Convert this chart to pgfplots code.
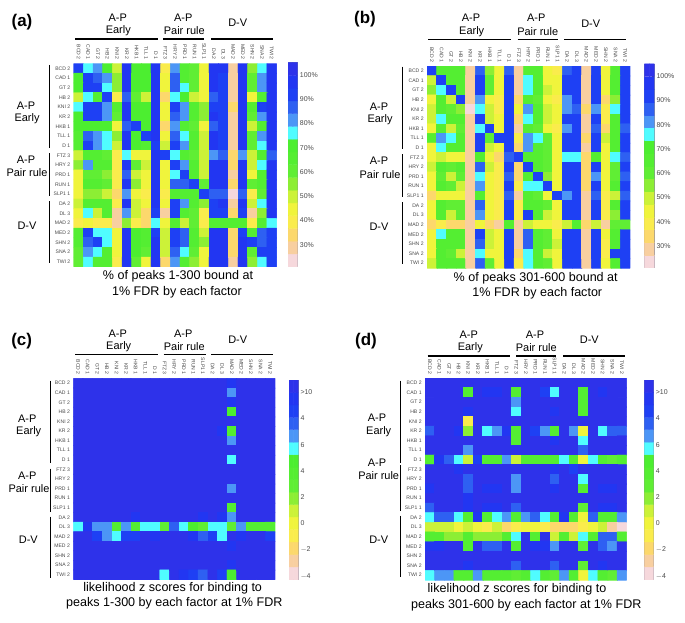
\documentclass[border=0pt]{standalone}
\usepackage{fontspec}
\setmainfont{Liberation Sans}
\usepackage{pgfplots}
\usepackage{pgfplotstable}
\pgfplotsset{compat=1.18}
\newcommand\fs[1]{\fontsize{#1}{#1}\selectfont}
\definecolor{tinygray}{HTML}{4A4A4A}
\definecolor{framegray}{HTML}{8C8C9C}
\pgfplotsset{
 colormap={chip}{rgb255=(246,216,220) rgb255=(248,207,160) rgb255=(252,216,108) rgb255=(250,236,76) rgb255=(240,244,60) rgb255=(204,242,56) rgb255=(140,238,52) rgb255=(96,238,52) rgb255=(84,238,50) rgb255=(76,238,48) rgb255=(80,252,255) rgb255=(76,150,246) rgb255=(46,96,242) rgb255=(30,64,244) rgb255=(34,54,242) rgb255=(46,50,234)},
 /pgfplots/table/flatgrid/.style={x index=0,y index=0,x expr={\coordindex-21*floor((\coordindex+0.5)/21)},y expr={floor((\coordindex+0.5)/21)},meta index=0},
 /pgfplots/table/flatunder/.style={x index=0,y index=0,x expr={\coordindex-21*floor((\coordindex+0.5)/21)+0.05},y expr={floor((\coordindex+0.5)/21)+0.05},meta index=0},
 heat/.style={scale only axis,anchor=south west,colormap name=chip,colormap access=piecewise constant,
  xmin=-0.5,xmax=20.5,ymin=-0.5,ymax=20.5,y dir=reverse,enlargelimits=false,
  axis line style={draw=none},major tick length=0pt,
  xtick={0,...,20},ytick={0,...,20},
  xticklabel pos=top,
  xticklabels={BCD 2,CAD 1,GT 2,HB 2,KNI 2,KR 2,HKB 1,TLL 1,D 1,FTZ 3,HRY 2,PRD 1,RUN 1,SLP1 1,DA 2,DL 3,MAD 2,MED 2,SHN 2,SNA 2,TWI 2},
  yticklabels={BCD 2,CAD 1,GT 2,HB 2,KNI 2,KR 2,HKB 1,TLL 1,D 1,FTZ 3,HRY 2,PRD 1,RUN 1,SLP1 1,DA 2,DL 3,MAD 2,MED 2,SHN 2,SNA 2,TWI 2},
  xticklabel style={yshift=3.5bp,rotate=-90,anchor=east,font=\fs{5.1},text=tinygray,inner sep=0pt},
  yticklabel style={anchor=east,font=\fs{5.1},text=tinygray,inner sep=0pt,xshift=-3.2bp}},
 cbar/.style={scale only axis,anchor=south west,colormap name=chip,colormap access=piecewise constant,
  xmin=-0.5,xmax=1.5,enlargelimits=false,xtick=\empty,
  axis line style={draw=framegray,line width=0.6bp},
  ytick pos=right,yticklabel pos=right,
  major tick length=2bp,tick style={draw=tinygray,line width=0.4bp},
  yticklabel style={font=\fs{7},text=tinygray,inner sep=0pt,xshift=2bp}},
 pctbar/.style={cbar,ymin=21,ymax=105,ytick={30,40,50,60,70,80,90,100},yticklabels={30\%,40\%,50\%,60\%,70\%,80\%,90\%,100\%}},
 zbar/.style={cbar,ymin=-4.25,ymax=10.94,ytick={-4,-2,0,2,4,6,8,10},yticklabels={$-$4,$-$2,0,2,4,6,4,>10}}
}
\newcommand\cellplot[1]{%
 \addplot[matrix plot*,mesh/cols=21,point meta=explicit] table[flatunder] {#1};
 \addplot[matrix plot*,mesh/cols=21,point meta=explicit] table[flatgrid] {#1};}
\newcommand\pctbarplot{\addplot[matrix plot*,mesh/cols=2,point meta=y] coordinates {(0,23.6)(1,23.6)(0,28.9)(1,28.9)(0,34.1)(1,34.1)(0,39.4)(1,39.4)(0,44.6)(1,44.6)(0,49.9)(1,49.9)(0,55.1)(1,55.1)(0,60.4)(1,60.4)(0,65.6)(1,65.6)(0,70.9)(1,70.9)(0,76.1)(1,76.1)(0,81.4)(1,81.4)(0,86.6)(1,86.6)(0,91.9)(1,91.9)(0,97.1)(1,97.1)(0,102.4)(1,102.4)};}
\newcommand\zbarplot{\addplot[matrix plot*,mesh/cols=2,point meta=y] coordinates {(0,-3.8)(1,-3.8)(0,-2.8)(1,-2.8)(0,-1.9)(1,-1.9)(0,-0.9)(1,-0.9)(0,0)(1,0)(0,1)(1,1)(0,1.9)(1,1.9)(0,2.9)(1,2.9)(0,3.8)(1,3.8)(0,4.8)(1,4.8)(0,5.7)(1,5.7)(0,6.7)(1,6.7)(0,7.6)(1,7.6)(0,8.6)(1,8.6)(0,9.5)(1,9.5)(0,10.5)(1,10.5)};}
\newcommand\txt[3]{\node[inner sep=0pt,font=\fs{11}] at (#1,#2) {#3};}
\newcommand\capt[3]{\node[inner sep=0pt,font=\fs{12.6}] at (#1,#2) {#3};}
\pgfplotstableread[header=false,row sep=\\]{
92\\76\\81\\71\\50\\97\\71\\71\\97\\39\\81\\66\\60\\45\\97\\97\\29\\97\\55\\76\\97\\
71\\92\\87\\81\\55\\97\\71\\71\\97\\45\\87\\66\\60\\45\\97\\92\\29\\97\\60\\81\\97\\
71\\92\\92\\76\\55\\97\\71\\71\\97\\45\\87\\76\\60\\45\\97\\92\\29\\97\\60\\81\\97\\
50\\76\\66\\92\\39\\87\\60\\50\\97\\34\\76\\71\\50\\45\\87\\92\\29\\97\\45\\66\\97\\
76\\92\\92\\81\\66\\97\\71\\71\\97\\45\\92\\81\\66\\55\\92\\92\\34\\97\\66\\92\\97\\
71\\92\\92\\81\\60\\97\\71\\71\\97\\45\\87\\81\\66\\55\\97\\92\\29\\97\\60\\81\\97\\
71\\71\\71\\71\\45\\87\\92\\71\\97\\34\\81\\66\\60\\45\\87\\92\\29\\97\\50\\66\\97\\
66\\87\\81\\76\\55\\97\\71\\92\\97\\45\\87\\76\\66\\50\\97\\92\\29\\97\\60\\81\\97\\
66\\92\\81\\76\\50\\97\\71\\66\\92\\50\\92\\81\\66\\50\\97\\92\\29\\97\\60\\76\\97\\
50\\66\\66\\60\\39\\76\\45\\45\\97\\92\\76\\66\\60\\50\\81\\87\\34\\81\\50\\66\\87\\
55\\81\\66\\66\\39\\97\\60\\50\\97\\45\\92\\81\\66\\50\\97\\97\\34\\97\\50\\76\\97\\
45\\60\\60\\55\\39\\87\\50\\45\\97\\45\\76\\92\\66\\50\\97\\97\\29\\97\\45\\66\\97\\
45\\66\\66\\60\\39\\97\\55\\45\\97\\45\\87\\87\\92\\60\\97\\97\\34\\97\\60\\66\\97\\
45\\55\\55\\50\\34\\81\\45\\39\\97\\39\\66\\66\\66\\92\\87\\87\\24\\87\\39\\60\\97\\
50\\66\\66\\66\\39\\97\\50\\45\\97\\45\\92\\81\\66\\55\\92\\97\\29\\97\\50\\76\\97\\
45\\76\\50\\66\\29\\81\\50\\34\\92\\29\\92\\66\\60\\39\\92\\92\\34\\92\\29\\55\\97\\
39\\45\\39\\39\\29\\55\\39\\34\\76\\45\\66\\50\\60\\39\\66\\66\\66\\66\\39\\66\\76\\
66\\92\\76\\76\\45\\97\\71\\66\\92\\50\\92\\87\\66\\50\\97\\97\\34\\92\\66\\87\\92\\
66\\87\\92\\76\\45\\97\\71\\66\\97\\50\\92\\87\\66\\55\\97\\97\\34\\97\\92\\87\\92\\
60\\81\\76\\66\\45\\97\\71\\60\\97\\50\\87\\76\\60\\45\\97\\97\\34\\97\\60\\92\\92\\
60\\76\\66\\66\\39\\97\\60\\45\\97\\34\\81\\66\\55\\45\\97\\97\\29\\97\\55\\76\\92\\
}\dataA
\pgfplotstableread[header=false,row sep=\\]{
92\\66\\66\\66\\29\\87\\55\\45\\87\\29\\66\\66\\45\\39\\87\\92\\29\\92\\45\\66\\92\\
50\\92\\66\\66\\29\\92\\60\\45\\92\\29\\76\\66\\45\\45\\92\\92\\29\\92\\45\\66\\92\\
55\\76\\92\\66\\29\\92\\60\\45\\92\\29\\76\\66\\50\\45\\92\\92\\29\\92\\45\\66\\92\\
45\\66\\50\\92\\29\\81\\45\\39\\92\\34\\66\\60\\45\\39\\81\\92\\29\\92\\34\\55\\92\\
50\\66\\60\\55\\24\\76\\50\\39\\92\\45\\81\\66\\50\\45\\81\\87\\34\\81\\39\\76\\92\\
50\\76\\66\\66\\29\\92\\50\\45\\92\\34\\76\\66\\50\\45\\92\\92\\29\\92\\39\\66\\92\\
45\\66\\50\\60\\29\\76\\92\\45\\92\\29\\66\\60\\45\\39\\81\\92\\29\\87\\34\\66\\87\\
66\\81\\76\\66\\29\\92\\60\\92\\92\\39\\81\\76\\60\\45\\92\\92\\34\\92\\50\\66\\92\\
45\\76\\66\\66\\29\\92\\50\\45\\92\\34\\81\\66\\60\\45\\92\\92\\29\\92\\45\\66\\92\\
45\\50\\45\\45\\29\\66\\45\\34\\87\\92\\66\\66\\60\\45\\76\\76\\34\\66\\45\\76\\87\\
50\\66\\60\\66\\29\\87\\50\\39\\92\\34\\92\\66\\60\\45\\92\\92\\34\\92\\45\\60\\92\\
45\\60\\50\\60\\29\\76\\45\\39\\87\\34\\66\\92\\55\\45\\92\\92\\34\\81\\45\\60\\87\\
45\\66\\60\\50\\29\\81\\45\\39\\92\\39\\76\\76\\92\\45\\92\\92\\34\\92\\45\\66\\92\\
34\\45\\45\\45\\29\\66\\45\\39\\87\\29\\66\\60\\45\\92\\81\\92\\29\\87\\39\\50\\87\\
45\\66\\60\\60\\29\\87\\45\\39\\92\\39\\66\\66\\60\\45\\92\\92\\29\\92\\39\\66\\92\\
45\\66\\50\\60\\29\\81\\45\\39\\92\\39\\92\\66\\50\\45\\92\\92\\29\\92\\39\\55\\92\\
34\\39\\34\\34\\29\\45\\34\\29\\66\\29\\50\\45\\45\\39\\50\\66\\34\\50\\29\\60\\60\\
45\\76\\66\\66\\29\\92\\50\\45\\92\\29\\87\\66\\60\\45\\92\\92\\29\\92\\45\\66\\92\\
45\\66\\66\\66\\29\\87\\50\\45\\92\\29\\87\\66\\60\\50\\92\\92\\29\\92\\39\\66\\92\\
45\\66\\60\\50\\29\\76\\45\\45\\92\\34\\76\\66\\50\\45\\92\\92\\29\\92\\39\\92\\92\\
50\\66\\66\\66\\29\\87\\60\\45\\92\\39\\76\\66\\60\\45\\92\\92\\29\\92\\45\\66\\92\\
}\dataB
\pgfplotstableread[header=false,row sep=\\]{
10.5\\10.5\\10.5\\10.5\\10.5\\10.5\\10.5\\10.5\\10.5\\10.5\\10.5\\10.5\\10.5\\10.5\\10.5\\10.5\\9.5\\10.5\\10.5\\10.5\\10.5\\
10.5\\10.5\\10.5\\10.5\\10.5\\10.5\\10.5\\10.5\\10.5\\10.5\\10.5\\10.5\\10.5\\10.5\\10.5\\10.5\\6.7\\10.5\\10.5\\10.5\\10.5\\
10.5\\10.5\\10.5\\10.5\\10.5\\10.5\\10.5\\10.5\\10.5\\10.5\\10.5\\10.5\\10.5\\10.5\\10.5\\10.5\\9.5\\10.5\\10.5\\10.5\\10.5\\
10.5\\10.5\\10.5\\10.5\\10.5\\10.5\\10.5\\10.5\\10.5\\10.5\\10.5\\10.5\\10.5\\10.5\\10.5\\10.5\\4.8\\10.5\\10.5\\10.5\\10.5\\
10.5\\10.5\\10.5\\10.5\\10.5\\10.5\\10.5\\10.5\\10.5\\10.5\\10.5\\10.5\\10.5\\10.5\\10.5\\10.5\\10.5\\10.5\\10.5\\10.5\\10.5\\
10.5\\10.5\\10.5\\10.5\\10.5\\10.5\\10.5\\10.5\\10.5\\10.5\\10.5\\10.5\\10.5\\10.5\\10.5\\9.5\\3.8\\10.5\\10.5\\10.5\\10.5\\
10.5\\10.5\\10.5\\10.5\\10.5\\10.5\\10.5\\10.5\\10.5\\10.5\\10.5\\10.5\\10.5\\10.5\\10.5\\10.5\\6.7\\10.5\\10.5\\10.5\\10.5\\
10.5\\10.5\\10.5\\10.5\\10.5\\10.5\\10.5\\10.5\\10.5\\10.5\\10.5\\10.5\\10.5\\10.5\\10.5\\10.5\\10.5\\10.5\\10.5\\10.5\\10.5\\
10.5\\10.5\\10.5\\10.5\\10.5\\10.5\\10.5\\10.5\\10.5\\10.5\\10.5\\10.5\\10.5\\10.5\\10.5\\10.5\\5.7\\10.5\\10.5\\10.5\\10.5\\
10.5\\10.5\\10.5\\10.5\\10.5\\10.5\\10.5\\10.5\\10.5\\10.5\\10.5\\10.5\\10.5\\10.5\\10.5\\10.5\\10.5\\10.5\\10.5\\10.5\\10.5\\
10.5\\10.5\\10.5\\10.5\\10.5\\10.5\\10.5\\10.5\\10.5\\10.5\\10.5\\10.5\\10.5\\10.5\\10.5\\10.5\\10.5\\10.5\\10.5\\10.5\\10.5\\
10.5\\10.5\\10.5\\10.5\\10.5\\10.5\\10.5\\10.5\\10.5\\10.5\\10.5\\10.5\\10.5\\10.5\\10.5\\10.5\\6.7\\10.5\\10.5\\10.5\\10.5\\
10.5\\10.5\\10.5\\10.5\\10.5\\10.5\\10.5\\10.5\\10.5\\10.5\\10.5\\10.5\\10.5\\10.5\\10.5\\10.5\\10.5\\10.5\\10.5\\10.5\\10.5\\
10.5\\10.5\\10.5\\10.5\\10.5\\10.5\\10.5\\10.5\\10.5\\10.5\\10.5\\10.5\\10.5\\10.5\\10.5\\10.5\\3.8\\10.5\\10.5\\10.5\\10.5\\
10.5\\10.5\\10.5\\10.5\\10.5\\10.5\\9.5\\10.5\\10.5\\10.5\\10.5\\10.5\\10.5\\9.5\\10.5\\9.5\\6.7\\10.5\\10.5\\10.5\\10.5\\
5.7\\9.5\\6.7\\6.7\\3.8\\6.7\\3.8\\5.7\\5.7\\2.9\\7.6\\5.7\\4.8\\2.9\\5.7\\5.7\\2.9\\6.7\\3.8\\3.8\\3.8\\
10.5\\10.5\\8.6\\6.7\\5.7\\8.6\\8.6\\10.5\\9.5\\10.5\\10.5\\10.5\\9.5\\7.6\\8.6\\5.7\\10.5\\9.5\\10.5\\10.5\\8.6\\
10.5\\10.5\\10.5\\10.5\\10.5\\10.5\\10.5\\10.5\\10.5\\10.5\\10.5\\10.5\\10.5\\10.5\\10.5\\10.5\\9.5\\10.5\\10.5\\10.5\\10.5\\
10.5\\10.5\\10.5\\10.5\\10.5\\10.5\\10.5\\10.5\\10.5\\10.5\\10.5\\10.5\\10.5\\10.5\\10.5\\10.5\\10.5\\10.5\\10.5\\10.5\\10.5\\
10.5\\10.5\\10.5\\10.5\\10.5\\10.5\\10.5\\10.5\\10.5\\10.5\\10.5\\10.5\\10.5\\10.5\\10.5\\10.5\\9.5\\10.5\\10.5\\10.5\\10.5\\
10.5\\10.5\\10.5\\10.5\\10.5\\10.5\\10.5\\10.5\\10.5\\5.7\\10.5\\9.5\\8.6\\7.6\\10.5\\8.6\\4.8\\10.5\\10.5\\10.5\\10.5\\
}\dataC
\pgfplotstableread[header=false,row sep=\\]{
10.5\\10.5\\10.5\\10.5\\10.5\\10.5\\10.5\\10.5\\10.5\\10.5\\10.5\\10.5\\10.5\\10.5\\10.5\\10.5\\10.5\\10.5\\10.5\\10.5\\10.5\\
10.5\\10.5\\10.5\\10.5\\3.8\\10.5\\9.5\\9.5\\10.5\\3.8\\10.5\\10.5\\8.6\\5.7\\10.5\\10.5\\3.8\\10.5\\9.5\\10.5\\10.5\\
10.5\\10.5\\10.5\\10.5\\10.5\\10.5\\10.5\\10.5\\10.5\\6.7\\10.5\\10.5\\10.5\\10.5\\10.5\\10.5\\3.8\\10.5\\10.5\\10.5\\10.5\\
10.5\\10.5\\10.5\\10.5\\9.5\\10.5\\10.5\\10.5\\10.5\\5.7\\10.5\\10.5\\10.5\\9.5\\10.5\\10.5\\3.8\\10.5\\10.5\\10.5\\10.5\\
10.5\\10.5\\10.5\\10.5\\-0.9\\10.5\\10.5\\10.5\\10.5\\10.5\\10.5\\10.5\\10.5\\10.5\\10.5\\10.5\\10.5\\10.5\\10.5\\10.5\\10.5\\
7.6\\10.5\\10.5\\9.5\\1.9\\10.5\\5.7\\6.7\\9.5\\3.8\\10.5\\8.6\\6.7\\3.8\\10.5\\6.7\\0\\10.5\\5.7\\7.6\\7.6\\
10.5\\10.5\\10.5\\10.5\\10.5\\10.5\\10.5\\10.5\\10.5\\3.8\\10.5\\10.5\\10.5\\9.5\\10.5\\10.5\\5.7\\10.5\\10.5\\10.5\\10.5\\
10.5\\10.5\\10.5\\10.5\\6.7\\10.5\\10.5\\10.5\\10.5\\10.5\\10.5\\10.5\\10.5\\10.5\\10.5\\10.5\\7.6\\10.5\\10.5\\10.5\\10.5\\
3.8\\9.5\\7.6\\5.7\\1\\8.6\\3.8\\3.8\\6.7\\1\\3.8\\3.8\\3.8\\3.8\\5.7\\3.8\\0\\5.7\\3.8\\2.9\\3.8\\
10.5\\10.5\\10.5\\9.5\\10.5\\10.5\\10.5\\10.5\\10.5\\10.5\\10.5\\10.5\\10.5\\9.5\\10.5\\8.6\\10.5\\10.5\\10.5\\10.5\\10.5\\
10.5\\10.5\\10.5\\10.5\\7.6\\10.5\\10.5\\10.5\\10.5\\6.7\\10.5\\10.5\\10.5\\7.6\\10.5\\10.5\\5.7\\10.5\\10.5\\10.5\\10.5\\
9.5\\10.5\\10.5\\10.5\\7.6\\10.5\\9.5\\9.5\\10.5\\6.7\\10.5\\10.5\\10.5\\9.5\\10.5\\10.5\\3.8\\10.5\\9.5\\9.5\\10.5\\
10.5\\10.5\\10.5\\10.5\\9.5\\10.5\\10.5\\10.5\\10.5\\10.5\\10.5\\10.5\\10.5\\10.5\\10.5\\10.5\\10.5\\10.5\\10.5\\10.5\\10.5\\
7.6\\10.5\\10.5\\10.5\\9.5\\10.5\\9.5\\9.5\\10.5\\7.6\\10.5\\10.5\\10.5\\10.5\\10.5\\10.5\\2.9\\10.5\\9.5\\9.5\\10.5\\
5.7\\7.6\\7.6\\5.7\\3.8\\9.5\\3.8\\5.7\\6.7\\3.8\\6.7\\7.6\\5.7\\3.8\\9.5\\3.8\\0\\7.6\\3.8\\3.8\\6.7\\
1\\1\\1\\0\\1\\0\\-0.9\\1\\-1.9\\-0.9\\0\\0\\-0.9\\-1.9\\-1.9\\-1.9\\-0.9\\0\\1\\-2.8\\-3.8\\
3.8\\3.8\\1.9\\1.9\\3.8\\1.9\\1.9\\1.9\\3.8\\5.7\\10.5\\3.8\\10.5\\1\\3.8\\1\\5.7\\3.8\\7.6\\7.6\\3.8\\
9.5\\9.5\\10.5\\10.5\\3.8\\10.5\\7.6\\7.6\\10.5\\3.8\\10.5\\9.5\\9.5\\6.7\\10.5\\10.5\\2.9\\10.5\\7.6\\6.7\\10.5\\
10.5\\10.5\\10.5\\10.5\\10.5\\10.5\\10.5\\10.5\\10.5\\10.5\\10.5\\10.5\\10.5\\10.5\\10.5\\10.5\\10.5\\10.5\\10.5\\10.5\\10.5\\
10.5\\10.5\\10.5\\10.5\\9.5\\10.5\\10.5\\10.5\\10.5\\7.6\\10.5\\10.5\\10.5\\7.6\\10.5\\10.5\\2.9\\10.5\\9.5\\10.5\\10.5\\
5.7\\6.7\\6.7\\3.8\\3.8\\6.7\\3.8\\3.8\\3.8\\2.9\\3.8\\5.7\\3.8\\2.9\\6.7\\3.8\\0\\5.7\\3.8\\2.9\\6.7\\
}\dataD
\begin{document}
\begin{tikzpicture}[x=1bp,y=-1bp]
\path[use as bounding box] (0,0) rectangle (685,623);
% ---------- panel a
\begin{axis}[heat,at={(73.7bp,-266.7bp)},width=202.9bp,height=203.2bp,point meta min=21,point meta max=105]
\cellplot{\dataA}
\end{axis}
\begin{axis}[pctbar,at={(288bp,-266.7bp)},width=9.7bp,height=204bp,point meta min=21,point meta max=105]
\pctbarplot
\end{axis}
% ---------- panel b
\begin{axis}[heat,at={(427bp,-268bp)},width=203bp,height=202bp,point meta min=21,point meta max=105]
\cellplot{\dataB}
\end{axis}
\begin{axis}[pctbar,at={(644.3bp,-267.7bp)},width=10bp,height=203.7bp,point meta min=21,point meta max=105]
\pctbarplot
\end{axis}
% ---------- panel c
\begin{axis}[heat,at={(73.3bp,-579.5bp)},width=201.7bp,height=201.2bp,point meta min=-4.25,point meta max=10.94]
\cellplot{\dataC}
\end{axis}
\begin{axis}[zbar,at={(289bp,-579.3bp)},width=9.3bp,height=199.3bp,point meta min=-4.25,point meta max=10.94]
\zbarplot
\end{axis}
% ---------- panel d
\begin{axis}[heat,at={(425bp,-580bp)},width=201.7bp,height=202bp,point meta min=-4.25,point meta max=10.94]
\cellplot{\dataD}
\end{axis}
\begin{axis}[zbar,at={(644.3bp,-579.3bp)},width=9.4bp,height=199.3bp,point meta min=-4.25,point meta max=10.94]
\zbarplot
\end{axis}
% ---------- decorations
\begin{scope}[line width=1.4bp,black]
\draw (75.3,39)--(157.7,39) (163.3,39)--(204,39) (211,39)--(273.3,39);
\draw (49.3,65)--(49.3,147.7) (49.3,153.3)--(49.3,195.7) (49.3,201)--(49.3,263.3);
\draw (428.3,39.3)--(510.7,39.3) (517.7,39.3)--(557.7,39.3) (564,39.3)--(626,39.3);
\draw (402.3,66.7)--(402.3,149) (402.3,154.3)--(402.3,197.3) (402.3,202.3)--(402.3,264);
\draw (75.3,354.7)--(157.7,354.7) (163.7,354.7)--(206,354.7) (211,354.7)--(273,354.7);
\draw (50.7,380.7)--(50.7,462.7) (50.7,468.7)--(50.7,511.7) (50.7,516.7)--(50.7,578.3);
\draw (427.7,356)--(510,356) (516.3,356)--(556.3,356) (563,356)--(625,356);
\draw (400.3,380.7)--(400.3,462.7) (400.3,465)--(400.3,511) (400.3,515.7)--(400.3,577.3);
\end{scope}
% a
\node[inner sep=0pt,font=\fs{17}\bfseries] at (22,22.3) {(a)};
\txt{117.7}{18}{A-P}\txt{118.3}{31}{Early}\txt{183.3}{18}{A-P}\txt{184.3}{31}{Pair rule}\txt{237.7}{23}{D-V}
\txt{26}{105.3}{A-P}\txt{27}{119}{Early}\txt{26}{159.3}{A-P}\txt{27}{173}{Pair rule}\txt{27}{225.7}{D-V}
\capt{178}{276.3}{\% of peaks 1-300 bound at}\capt{177}{292}{1\% FDR by each factor}
% b
\node[inner sep=0pt,font=\fs{17}\bfseries] at (365,19) {(b)};
\txt{471}{18}{A-P}\txt{471.7}{31.5}{Early}\txt{536.3}{18}{A-P}\txt{537.7}{31.5}{Pair rule}\txt{590.7}{23.3}{D-V}
\txt{379}{106.3}{A-P}\txt{380}{120}{Early}\txt{379}{160.7}{A-P}\txt{380}{174.3}{Pair rule}\txt{379}{226.7}{D-V}
\capt{535.7}{278}{\% of peaks 301-600 bound at}\capt{537.3}{293.3}{1\% FDR by each factor}
% c
\node[inner sep=0pt,font=\fs{17}\bfseries] at (21.7,341) {(c)};
\txt{117.7}{334}{A-P}\txt{118.7}{346.7}{Early}\txt{183.3}{334}{A-P}\txt{184.3}{346.7}{Pair rule}\txt{237.7}{339.3}{D-V}
\txt{27.3}{419}{A-P}\txt{28.7}{432}{Early}\txt{27.3}{476}{A-P}\txt{29}{489}{Pair rule}\txt{28.3}{540}{D-V}
\capt{172.7}{588.7}{likelihood z scores for binding to}\capt{174.3}{603.7}{peaks 1-300 by each factor at 1\% FDR}
% d
\node[inner sep=0pt,font=\fs{17}\bfseries] at (366,341) {(d)};
\txt{468.7}{335}{A-P}\txt{470.3}{348}{Early}\txt{535}{335}{A-P}\txt{536.3}{348}{Pair rule}\txt{589.3}{340}{D-V}
\txt{377}{418}{A-P}\txt{378.7}{431.3}{Early}\txt{377}{462.3}{A-P}\txt{378.7}{475.7}{Pair rule}\txt{378.7}{540}{D-V}
\capt{517}{589.3}{likelihood z scores for binding to}\capt{526.3}{605.3}{peaks 301-600 by each factor at 1\% FDR}
\end{tikzpicture}
\end{document}
